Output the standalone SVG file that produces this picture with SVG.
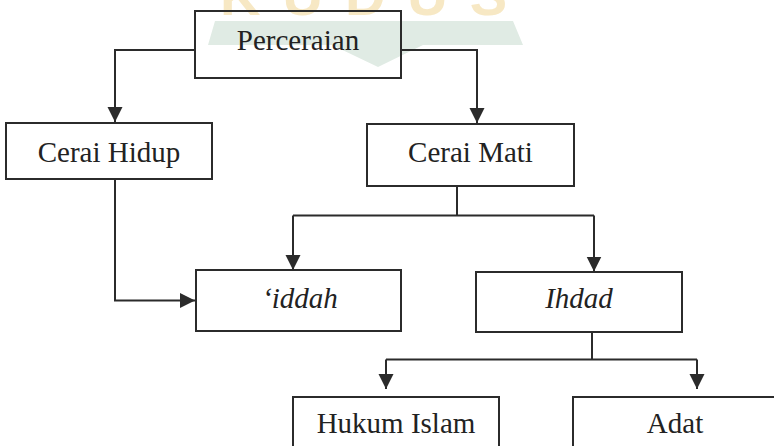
<svg xmlns="http://www.w3.org/2000/svg" width="774" height="446" viewBox="0 0 774 446">
<style>
.box{fill:none;stroke:#2b2b2b;stroke-width:2}
.t{font-family:"Liberation Serif","Times New Roman",serif;font-size:29px;fill:#222;text-anchor:middle}
.i{font-style:italic}
.c{fill:none;stroke:#2b2b2b;stroke-width:2}
</style>
<defs>
<marker id="ah" markerUnits="userSpaceOnUse" markerWidth="16" markerHeight="16" refX="15" refY="7.5" orient="auto">
<path d="M0,0 L15,7.5 L0,15 Z" fill="#2b2b2b"/>
</marker>
</defs>
<g id="watermark">
<text x="220" y="15" font-family="Liberation Sans,Arial,sans-serif" font-weight="bold" font-size="56" fill="#f7e8c4" letter-spacing="22">KUDUS</text>
<path d="M215,21 L513,21 L523,45 L423,45 L378,67 L332,45 L208,45 Z" fill="#e0ebe4"/>
</g>
<g id="connectors">
<path class="c" d="M195,50 L115,50 L115,122" marker-end="url(#ah)"/>
<path class="c" d="M401,50 L477,50 L477,123" marker-end="url(#ah)"/>
<path class="c" d="M115,179 L115,300.5 L195,300.5" marker-end="url(#ah)"/>
<path class="c" d="M457,186 L457,215.5"/>
<path class="c" d="M293,215.5 L594,215.5"/>
<path class="c" d="M293,215.5 L293,270" marker-end="url(#ah)"/>
<path class="c" d="M594,215.5 L594,271.5" marker-end="url(#ah)"/>
<path class="c" d="M592,332 L592,359.5"/>
<path class="c" d="M386,359.5 L697,359.5"/>
<path class="c" d="M386,359.5 L386,389" marker-end="url(#ah)"/>
<path class="c" d="M697,359.5 L697,389" marker-end="url(#ah)"/>
</g>
<g id="perceraian">
<rect class="box" x="195" y="11" width="206" height="67"/>
<text class="t" x="298" y="50">Perceraian</text>
</g>
<g id="cerai-hidup">
<rect class="box" x="6" y="123" width="206" height="56"/>
<text class="t" x="109" y="162">Cerai Hidup</text>
</g>
<g id="cerai-mati">
<rect class="box" x="367" y="124" width="207" height="62"/>
<text class="t" x="470.5" y="161.5">Cerai Mati</text>
</g>
<g id="iddah">
<rect class="box" x="196" y="270" width="205" height="61"/>
<text class="t i" x="300" y="308">‘iddah</text>
</g>
<g id="ihdad">
<rect class="box" x="476" y="272" width="206" height="60"/>
<text class="t i" x="579" y="308">Ihdad</text>
</g>
<g id="hukum-islam">
<rect class="box" x="293" y="397" width="206" height="60"/>
<text class="t" x="396" y="433">Hukum Islam</text>
</g>
<g id="adat">
<rect class="box" x="573" y="397" width="210" height="60"/>
<text class="t" x="675" y="433">Adat</text>
</g>
</svg>
